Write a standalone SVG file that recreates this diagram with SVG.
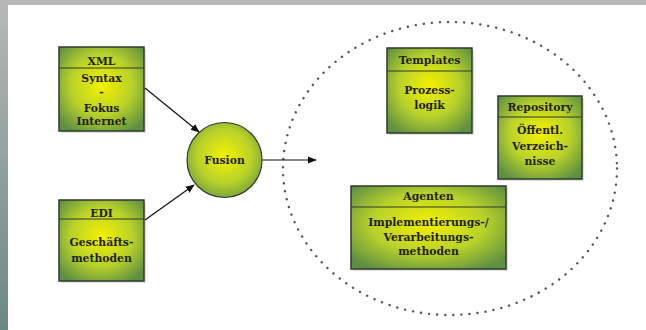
<svg xmlns="http://www.w3.org/2000/svg" width="646" height="330" viewBox="0 0 646 330">
<defs>
<linearGradient id="frame" x1="0" y1="0" x2="0" y2="1">
<stop offset="0" stop-color="#b7b9b8"/>
<stop offset="1" stop-color="#6c8886"/>
</linearGradient>
<radialGradient id="fill" cx="0.5" cy="0.45" r="0.65">
<stop offset="0" stop-color="#f4f000"/>
<stop offset="0.55" stop-color="#b9d22a"/>
<stop offset="1" stop-color="#5f9042"/>
</radialGradient>
<marker id="arr" viewBox="0 0 10 10" refX="9" refY="5" markerWidth="9" markerHeight="9" orient="auto" markerUnits="userSpaceOnUse">
<path d="M0,1 L10,5 L0,9 z" fill="#111"/>
</marker>
</defs>
<style>
.box{fill:url(#fill);stroke:#2e3a2e;stroke-width:1.5}
.shadow{fill:#000;opacity:0.12}
.div{stroke:#2e3a2e;stroke-width:1.2}
.t{font-family:"DejaVu Serif","Liberation Serif",serif;font-weight:bold;font-size:10.8px;fill:#1e1e10;text-anchor:middle}
.con{stroke:#111;stroke-width:1.2;fill:none;marker-end:url(#arr)}
</style>
<rect x="0" y="0" width="646" height="330" fill="#ffffff"/>
<rect x="0" y="0" width="646" height="5" fill="#b7b9b8"/>
<rect x="0" y="0" width="8" height="330" fill="url(#frame)"/>

<ellipse id="cloud" cx="450" cy="168.5" rx="167" ry="146.5" fill="none" stroke="#555" stroke-width="2.4" stroke-dasharray="0.1 8" stroke-linecap="round"/>

<g id="connectors">
<line class="con" x1="145" y1="88" x2="199" y2="132"/>
<line class="con" x1="145" y1="220" x2="194" y2="185"/>
<line class="con" x1="262" y1="160" x2="316" y2="160"/>
</g>

<g id="xml">
<rect class="shadow" x="61" y="49" width="85" height="84"/>
<rect class="box" x="59" y="47" width="85" height="84"/>
<line class="div" x1="59" y1="68" x2="144" y2="68"/>
<text class="t" x="101.5" y="65">XML</text>
<text class="t" x="101.5" y="82">Syntax</text>
<text class="t" x="101.5" y="96">-</text>
<text class="t" x="101.5" y="112">Fokus</text>
<text class="t" x="101.5" y="125">Internet</text>
</g>

<g id="edi">
<rect class="shadow" x="61" y="202" width="85" height="81"/>
<rect class="box" x="59" y="200" width="85" height="81"/>
<line class="div" x1="59" y1="219" x2="144" y2="219"/>
<text class="t" x="101.5" y="216.5">EDI</text>
<text class="t" x="101.5" y="245.5">Geschäfts-</text>
<text class="t" x="101.5" y="261.5">methoden</text>
</g>

<g id="fusion">
<circle cx="224.5" cy="160" r="37.5" fill="url(#fill)" stroke="#2e3a2e" stroke-width="1.2"/>
<text class="t" x="224.5" y="164">Fusion</text>
</g>

<g id="templates">
<rect class="shadow" x="389" y="50" width="85" height="85"/>
<rect class="box" x="387" y="48" width="85" height="85"/>
<line class="div" x1="387" y1="71" x2="472" y2="71"/>
<text class="t" x="429.5" y="64">Templates</text>
<text class="t" x="429.5" y="93.5">Prozess-</text>
<text class="t" x="429.5" y="108.5">logik</text>
</g>

<g id="repository">
<rect class="shadow" x="500" y="98" width="84" height="83"/>
<rect class="box" x="498" y="96" width="84" height="83"/>
<line class="div" x1="498" y1="117" x2="582" y2="117"/>
<text class="t" x="540" y="110.5">Repository</text>
<text class="t" x="540" y="133.5">Öffentl.</text>
<text class="t" x="540" y="149.5">Verzeich-</text>
<text class="t" x="540" y="164.5">nisse</text>
</g>

<g id="agenten">
<rect class="shadow" x="353" y="188" width="155" height="83"/>
<rect class="box" x="351" y="186" width="155" height="83"/>
<line class="div" x1="351" y1="207" x2="506" y2="207"/>
<text class="t" x="428.5" y="200">Agenten</text>
<text class="t" x="428.5" y="225.5">Implementierungs-/</text>
<text class="t" x="428.5" y="240.5">Verarbeitungs-</text>
<text class="t" x="428.5" y="255">methoden</text>
</g>
</svg>
